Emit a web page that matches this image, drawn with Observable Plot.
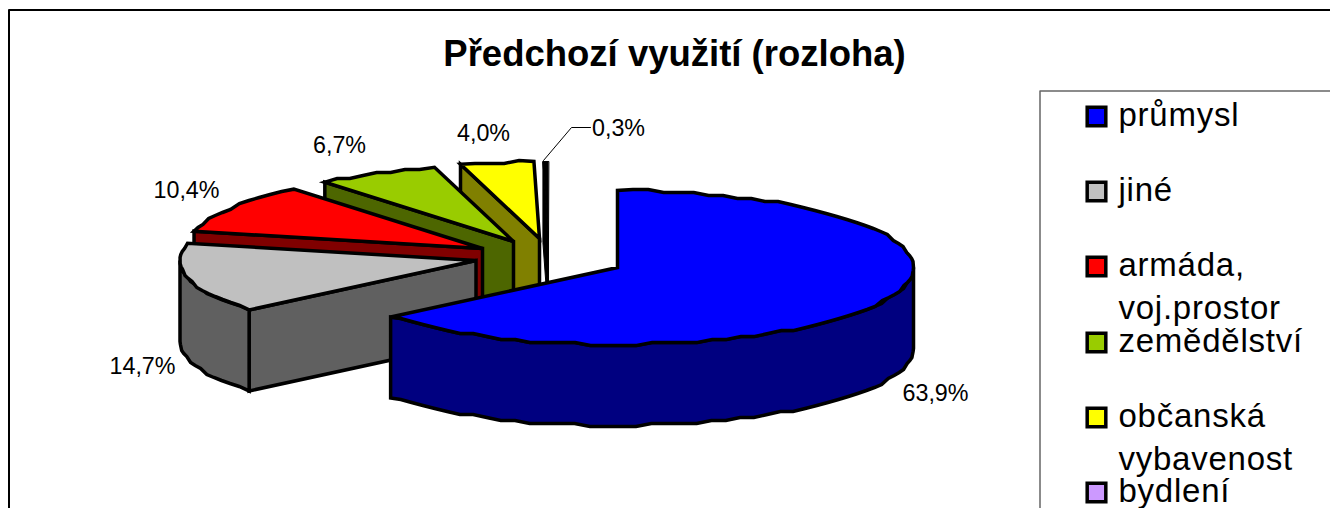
<!DOCTYPE html>
<html>
<head>
<meta charset="utf-8">
<script src="https://cdn.jsdelivr.net/npm/d3@7"></script>
<script src="https://cdn.jsdelivr.net/npm/@observablehq/plot@0.6"></script>
<style>html,body{margin:0;padding:0;background:#fff;overflow:hidden}svg{display:block}</style>
</head>
<body>
<div id="chart"></div>
<script>
const categories = ["průmysl", "jiné", "armáda,\nvoj.prostor", "zemědělství", "občanská\nvybavenost", "bydlení"];
const shares = [63.9, 14.7, 10.4, 6.7, 4.0, 0.3];
const labels = ["63,9%", "14,7%", "10,4%", "6,7%", "4,0%", "0,3%"];
const topColors = ["#0000ff", "#c0c0c0", "#ff0000", "#99cc00", "#ffff00", "#cc99ff"];
const sideColors = ["#000080", "#606060", "#800000", "#4d6600", "#808000", "#000000"];
const title = "Předchozí využití (rozloha)";

// layout
const W = 1330, H = 508;
const rx = 296, ry = 77, depth = 81;
const apexes = [[617, 267], [475.5, 260], [482, 248], [513, 241], [539, 238], [548, 238]];
const labelPos = [[935, 393], [142, 366], [186, 190], [339, 145], [483, 133], [618, 128]];
const swatchY = [116, 191, 266, 342, 417, 492];

const rad = d => d * Math.PI / 180;
const snap = (v, s) => Math.round(v / s) * s;
const rim = (a, ang) => [a[0] + rx * Math.sin(rad(ang)), a[1] - ry * Math.cos(rad(ang))];
const arc = (a, from, to) => {
  const pts = [];
  const n = Math.max(1, Math.round((to - from) / 3));
  for (let i = 0; i <= n; i++) {
    const [x, y] = rim(a, from + (to - from) * i / n);
    pts.push(i === 0 || i === n ? [x, y] : [x, a[1] + snap(y - a[1], 3)]);
  }
  return pts;
};
const down = p => [p[0], p[1] + depth];
let cum = 0;
const slices = shares.map((s, i) => {
  const from = cum * 3.6;
  cum += s;
  return {i, from, to: i === shares.length - 1 ? 360 : cum * 3.6, a: apexes[i]};
});
const poly = (pts, fill, strokeWidth = 3.5) => Plot.line(pts, {
  x: d => d[0], y: d => d[1], curve: "linear-closed", fill,
  stroke: "#000", strokeWidth, strokeLinejoin: "miter", strokeMiterlimit: 4
});
// back to front
const pieMarks = [];
for (const s of [...slices].reverse()) {
  const a = s.a;
  const thin = s.i === shares.length - 1; // so narrow its outline swallows the fill
  const sw = thin ? 1 : 3.5;
  const p0 = rim(a, s.from);
  if (s.i > 0) pieMarks.push(poly([a, p0, down(p0), down(a)], sideColors[s.i], sw));
  const f = Math.max(s.from, 90), t = Math.min(s.to, 270);
  if (t > f) {
    const w = arc(a, f, t);
    pieMarks.push(poly([...w, ...w.map(down).reverse()], sideColors[s.i], sw));
  }
  pieMarks.push(poly([a, ...arc(a, s.from, s.to)], thin ? "#000" : topColors[s.i], sw));
}

const legendRows = [];
categories.forEach((c, i) => c.split("\n").forEach((t, j) => legendRows.push({t, base: swatchY[i] + 9 + j * 43})));
const legendFont = 33;
const font = "Liberation Sans, Arial, sans-serif";
const swatches = categories.map((c, i) => ({c, i}));
const labelRows = labels.map((t, i) => ({t, x: labelPos[i][0], y: labelPos[i][1]}));

const chart = Plot.plot({
  width: W, height: H, margin: 0,
  x: {domain: [0, W], range: [0, W], axis: null},
  y: {domain: [0, H], range: [0, H], axis: null},
  style: {background: "#fff", fontFamily: font},
  marks: [
    Plot.line([[1330, 9.5], [8.5, 9.5], [8.5, 508]], {x: d => d[0], y: d => d[1], stroke: "#000", strokeWidth: 2}),
    Plot.text([title], {x: () => 674, y: () => 54, text: d => d, fontSize: 36.5, fontWeight: "bold", fill: "#000", textAnchor: "middle", lineAnchor: "middle", fontFamily: font}),
    ...pieMarks,
    Plot.line([[543, 160], [571, 127], [590, 127]], {x: d => d[0], y: d => d[1], stroke: "#000", strokeWidth: 1}),
    Plot.text(labelRows, {x: "x", y: "y", text: "t", fontSize: 23.3, fill: "#000", textAnchor: "middle", lineAnchor: "middle", fontFamily: font}),
    Plot.line([[1330, 90.5], [1039.5, 90.5], [1039.5, 508]], {x: d => d[0], y: d => d[1], stroke: "#666", strokeWidth: 1.5}),
    Plot.dot(swatches, {x: () => 1096, y: d => swatchY[d.i], symbol: "square", r: 10.5, fill: d => topColors[d.i], stroke: "#000", strokeWidth: 3.5}),
    Plot.text(legendRows, {x: () => 1118, y: d => d.base - 0.32 * legendFont, text: "t", fontSize: legendFont, fill: "#000", textAnchor: "start", lineAnchor: "middle", fontFamily: font,
      render(index, scales, values, dims, context, next) {
        const g = next(index, scales, values, dims, context);
        g.style.letterSpacing = "0.75px";
        return g;
      }})
  ]
});
document.getElementById("chart").append(chart);
</script>
</body>
</html>
